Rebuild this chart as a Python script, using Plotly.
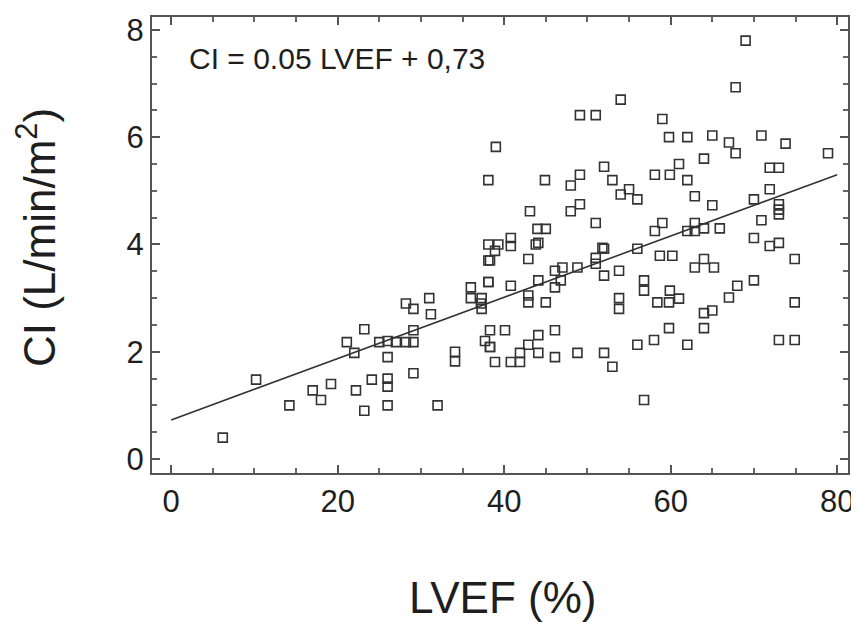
import plotly.graph_objects as go

# LVEF (%) vs CI (L/min/m2)
lvef = [
    6.2, 10.2, 14.2, 17.0, 18.0, 19.2, 21.1, 22.0, 23.2, 22.2, 23.2, 24.1,
    26.0, 26.0, 26.0, 25.0, 26.0, 27.0, 28.2, 29.1, 28.2, 29.1, 29.1, 31.0,
    31.2, 29.1, 32.0, 34.1, 34.1, 36.0, 38.1, 38.3, 39.3, 37.2, 38.1, 38.1,
    38.9, 38.3, 37.3, 37.3, 39.0, 38.1, 40.8, 40.8, 43.1, 44.0, 45.0, 44.1,
    43.8, 42.9, 38.1, 40.8, 44.1, 42.9, 42.9, 45.0, 46.1, 47.0, 46.1, 46.8,
    48.8, 51.0, 51.0, 52.0, 52.0, 53.8, 56.0, 51.8, 44.9, 48.0, 49.1, 52.0,
    53.0, 48.0, 49.1, 51.0, 54.0, 55.0, 56.0, 49.1, 51.0, 54.0, 59.0, 59.8,
    62.0, 65.0, 67.0, 67.8, 69.0, 67.8, 70.9, 73.8, 78.9, 58.1, 59.9, 61.0,
    62.0, 64.0, 71.9, 73.0, 62.9, 65.0, 70.0, 71.9, 73.0, 73.0, 73.0, 70.9,
    70.0, 71.9, 73.0, 59.0, 58.1, 62.0, 62.9, 62.9, 64.0, 65.9, 58.7, 60.2,
    62.9, 64.0, 65.2, 56.8, 56.8, 53.8, 53.8, 58.4, 59.8, 59.9, 61.0, 38.3,
    40.1, 38.3, 38.9, 40.8, 41.9, 41.9, 42.9, 44.1, 44.1, 46.1, 46.1, 48.8,
    52.0, 53.0, 56.0, 58.0, 59.8, 62.0, 64.0, 64.0, 65.0, 67.0, 68.0, 70.0,
    74.9, 74.9, 73.0, 74.9, 56.8, 37.7, 36.0, 26.0,
]
ci = [
    0.40, 1.48, 1.00, 1.28, 1.10, 1.40, 2.18, 1.98, 2.42, 1.28, 0.90, 1.48,
    1.50, 1.35, 1.90, 2.18, 1.00, 2.18, 2.18, 2.18, 2.90, 2.80, 2.40, 3.00,
    2.70, 1.60, 1.00, 2.00, 1.82, 3.20, 3.30, 3.70, 4.00, 2.90, 3.70, 4.00,
    3.88, 2.09, 3.00, 2.80, 5.82, 5.20, 4.12, 3.97, 4.62, 4.29, 4.29, 4.03,
    4.00, 3.73, 3.30, 3.23, 3.33, 3.05, 2.92, 2.92, 3.51, 3.57, 3.20, 3.33,
    3.57, 3.64, 3.75, 3.92, 3.42, 3.51, 3.92, 3.94, 5.20, 5.10, 5.30, 5.45,
    5.20, 4.62, 4.75, 4.40, 4.93, 5.03, 4.84, 6.41, 6.41, 6.70, 6.34, 6.00,
    6.00, 6.03, 5.90, 5.70, 7.80, 6.93, 6.03, 5.88, 5.70, 5.30, 5.30, 5.50,
    5.20, 5.60, 5.43, 5.43, 4.90, 4.73, 4.84, 5.03, 4.75, 4.65, 4.56, 4.45,
    4.12, 3.97, 4.03, 4.40, 4.25, 4.25, 4.25, 4.40, 4.30, 4.30, 3.79, 3.79,
    3.57, 3.73, 3.57, 3.33, 3.14, 3.00, 2.80, 2.92, 2.92, 3.14, 2.99, 2.40,
    2.40, 2.09, 1.81, 1.81, 1.81, 1.98, 2.13, 2.31, 1.98, 2.40, 1.90, 1.98,
    1.98, 1.72, 2.13, 2.22, 2.44, 2.13, 2.44, 2.72, 2.77, 3.01, 3.23, 3.33,
    3.73, 2.92, 2.22, 2.22, 1.10, 2.20, 3.00, 2.20,
]

# regression line as drawn in the figure
fit_x = [0, 80]
fit_y = [0.73, 5.30]

x_ticks = [0, 20, 40, 60, 80]
y_ticks = [0, 2, 4, 6, 8]

font = "Liberation Sans, Arial, sans-serif"
ink = "#1e1e1e"

fig = go.Figure()
fig.add_trace(
    go.Scatter(
        x=fit_x,
        y=fit_y,
        mode="lines",
        line=dict(color="#333333", width=1.6),
        showlegend=False,
    )
)
fig.add_trace(
    go.Scatter(
        x=lvef,
        y=ci,
        mode="markers",
        marker=dict(
            symbol="square-open",
            size=9,
            color="#333333",
            line=dict(width=1.6, color="#333333"),
        ),
        showlegend=False,
    )
)

axis_common = dict(
    showgrid=False,
    zeroline=False,
    showline=True,
    linecolor="#555555",
    linewidth=2,
    mirror="ticks",
    ticks="inside",
    ticklen=8,
    tickwidth=1.5,
    tickcolor="#555555",
    tickfont=dict(family=font, size=31, color=ink),
)

fig.update_xaxes(
    range=[-2.3, 81.3],
    tickvals=x_ticks,
    minor=dict(dtick=5, ticks="inside", ticklen=5, tickcolor="#666666"),
    **axis_common,
)
fig.update_yaxes(
    range=[-0.26, 8.24],
    tickvals=y_ticks,
    minor=dict(dtick=0.5, ticks="inside", ticklen=5, tickcolor="#666666"),
    **axis_common,
)

fig.add_annotation(
    text="CI = 0.05 LVEF + 0,73",
    xref="paper", yref="paper",
    x=0.051, y=0.909,
    xanchor="left", yanchor="middle",
    showarrow=False,
    font=dict(family=font, size=30, color=ink),
)
fig.add_annotation(
    text="CI (L/min/m<sup>2</sup>)",
    xref="paper", yref="paper",
    x=-0.167, y=0.517,
    xanchor="center", yanchor="middle",
    textangle=-90,
    showarrow=False,
    font=dict(family=font, size=44, color=ink),
)
fig.add_annotation(
    text="LVEF (%)",
    xref="paper", yref="paper",
    x=0.504, y=-0.272,
    xanchor="center", yanchor="middle",
    showarrow=False,
    font=dict(family=font, size=44, color=ink),
)

# page body adds an 8px offset, so the figure is 8px smaller than the window
fig.update_layout(
    width=851,
    height=614,
    margin=dict(l=144, r=7, t=5, b=149),
    plot_bgcolor="white",
    paper_bgcolor="white",
)

fig.write_html("out.html")
